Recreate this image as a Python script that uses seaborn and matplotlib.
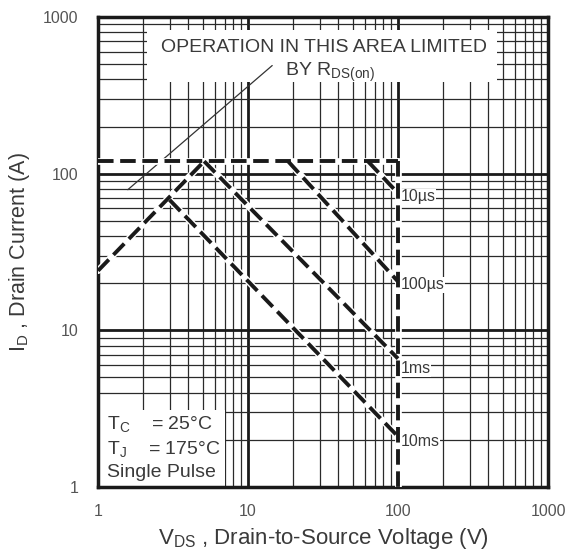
import numpy as np
import pandas as pd
import matplotlib
matplotlib.use("Agg")
import matplotlib.pyplot as plt
from matplotlib.patches import Rectangle
from matplotlib.ticker import FixedLocator, NullFormatter
import seaborn as sns

# Safe operating area segments (V_DS in V, I_D in A)
limit_x = [1, 100]
limit_y = [120, 120]
vmax_x = [100, 100]
vmax_y = [120, 1]
rds_x = [1, 5.1]
rds_y = [24, 120]
us10_x = [63, 100]
us10_y = [120, 75]
us100_x = [18.5, 100]
us100_y = [120, 20.5]
ms1_x = [5.1, 100]
ms1_y = [120, 6.6]
ms10_x = [3.0, 100]
ms10_y = [68, 2.1]
leader_x = [1.58, 14.5]
leader_y = [79, 490]

pulse_labels = ["10\u00b5s", "100\u00b5s", "1ms", "10ms"]
pulse_label_y = [71, 19.5, 5.7, 1.95]
tick_vals = [1, 10, 100, 1000]
tick_text = ["1", "10", "100", "1000"]

sns.set_style("white")
plt.rcParams["font.family"] = ["Liberation Sans", "DejaVu Sans"]
plt.rcParams["mathtext.fontset"] = "custom"
plt.rcParams["mathtext.rm"] = "Liberation Sans"
plt.rcParams["mathtext.it"] = "Liberation Sans"

fig = plt.figure(figsize=(5.72, 5.57), dpi=100)
ax = fig.add_axes([98 / 572, 70 / 557, 450 / 572, 470 / 557])
ax.set_xscale("log")
ax.set_yscale("log")
ax.set_xlim(1, 1000)
ax.set_ylim(1, 1000)

ax.set_axisbelow(True)
ax.grid(which="major", color="#1a1a1a", lw=2.0)
ax.grid(which="minor", color="#2a2a2a", lw=0.9)

ax.xaxis.set_major_locator(FixedLocator(tick_vals))
ax.yaxis.set_major_locator(FixedLocator(tick_vals))
ax.set_xticklabels(tick_text)
ax.set_yticklabels(tick_text)
ax.xaxis.set_minor_formatter(NullFormatter())
ax.yaxis.set_minor_formatter(NullFormatter())
ax.tick_params(which="both", length=0, labelsize=11.5, labelcolor="#555555")
ax.tick_params(axis="x", pad=12)
ax.tick_params(axis="y", pad=14)

for s in ax.spines.values():
    s.set_linewidth(2.5)
    s.set_color("#1a1a1a")

# white patches behind the annotations
ax.add_patch(Rectangle((0.109, 0.862), 0.778, 0.11, transform=ax.transAxes,
                       facecolor="white", edgecolor="none", zorder=1))
ax.add_patch(Rectangle((0.0, 0.0), 0.283, 0.164, transform=ax.transAxes,
                       facecolor="white", edgecolor="none", zorder=1))

sns.lineplot(x=leader_x, y=leader_y, ax=ax, color="#333333", lw=0.9,
             estimator=None, sort=False, zorder=2)

dash = (0, (4, 1.7))
segments = [(limit_x, limit_y), (vmax_x, vmax_y), (rds_x, rds_y),
            (us10_x, us10_y), (us100_x, us100_y), (ms1_x, ms1_y), (ms10_x, ms10_y)]
for sx, sy in segments:
    sns.lineplot(x=sx, y=sy, ax=ax, color="white", lw=4.8,
                 estimator=None, sort=False, zorder=3)
for sx, sy in segments:
    sns.lineplot(x=sx, y=sy, ax=ax, color="#1a1a1a", lw=2.8, linestyle=dash,
                 estimator=None, sort=False, zorder=4)

for lab, yv in zip(pulse_labels, pulse_label_y):
    ax.text(104, yv, lab, fontsize=11.5, color="#3a3a3a", va="center", ha="left",
            zorder=5, bbox=dict(facecolor="white", edgecolor="none", pad=0.5))

txt = dict(transform=ax.transAxes, fontsize=14, color="#3a3a3a", zorder=5)
ax.text(0.503, 0.936, "OPERATION IN THIS AREA LIMITED", ha="center", va="center", **txt)
ax.text(0.516, 0.883, r"BY R$_{\mathrm{DS(on)}}$", ha="center", va="center", **txt)

ax.text(0.02, 0.134, r"T$_{\mathrm{C}}$    = 25°C", ha="left", va="center", **txt)
ax.text(0.02, 0.080, r"T$_{\mathrm{J}}$    = 175°C", ha="left", va="center", **txt)
ax.text(0.02, 0.030, "Single Pulse", ha="left", va="center", **txt)

ax.set_xlabel(r"V$_{\mathrm{DS}}$ , Drain-to-Source Voltage (V)", fontsize=16,
              color="#3a3a3a", labelpad=5)
ax.set_ylabel(r"I$_{\mathrm{D}}$ , Drain Current (A)", fontsize=15.5,
              color="#3a3a3a", labelpad=8)

fig.savefig("out.png", dpi=100)
